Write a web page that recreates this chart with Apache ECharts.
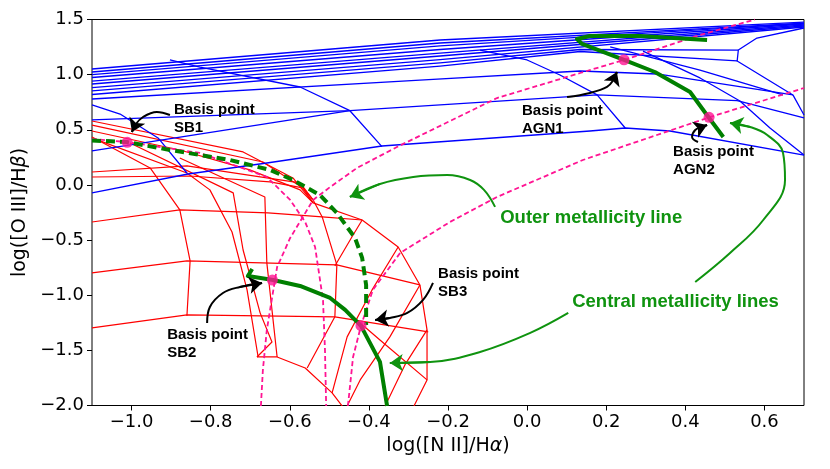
<!DOCTYPE html>
<html><head><meta charset="utf-8">
<script src="https://cdn.jsdelivr.net/npm/echarts@6/dist/echarts.min.js"></script>
<style>html,body{margin:0;padding:0;background:#fff}#c{width:830px;height:469px}</style>
</head><body><div id="c"></div>
<script>
// ---------- axis ticks ----------
const X_TICKS = [-1.0,-0.8,-0.6,-0.4,-0.2,0.0,0.2,0.4,0.6];

// ---------- AGN model grid (blue) ----------
const BLUE_B1 = [[-1.1,1.051],[-0.22,1.314],[0.7,1.477]];
const BLUE_B2 = [[-1.1,1.024],[-0.22,1.287],[0.7,1.468]];
const BLUE_B3 = [[-1.1,1.001],[-0.22,1.260],[0.7,1.464]];
const BLUE_B4 = [[-1.1,0.974],[-0.22,1.228],[0.7,1.459]];
const BLUE_B5 = [[-1.1,0.942],[-0.22,1.196],[0.7,1.450]];
const BLUE_B6 = [[-1.1,0.915],[-0.22,1.169],[0.7,1.441]];
const BLUE_B7 = [[-1.1,0.883],[-0.22,1.137],[0.7,1.432]];
const BLUE_B8 = [[-1.1,0.852],[-0.22,1.106],[0.134,1.228],[0.534,1.223]];
const BLUE_B9 = [[-1.1,0.820],[-0.22,1.078],[0.134,1.210],[0.531,1.124]];
const BLUE_B10 = [[-1.1,0.779],[-0.271,0.951],[0.134,1.033],[0.329,1.006],[0.672,0.816]];
const BLUE_L1 = [[-1.1,0.589],[-0.448,0.673],[0.177,0.816],[0.531,0.764],[0.7,0.607]];
const BLUE_L2 = [[-1.1,0.308],[-0.448,0.673]];
const BLUE_L3 = [[-1.1,-0.072],[-0.857,0.099],[-0.658,0.199],[-0.367,0.353],[0.159,0.489],[0.248,0.516],[0.361,0.489],[0.7,0.271]];
const BLUE_D0 = [[-1.1,0.725],[-1.029,0.643],[-0.933,0.426],[-0.860,0.108]];
const BLUE_D1 = [[-0.903,1.133],[-0.827,1.069],[-0.574,0.888],[-0.448,0.673],[-0.367,0.347]];
const BLUE_D2 = [[-0.119,1.223],[0.0,1.133],[0.083,0.997],[0.177,0.816],[0.248,0.516]];
const BLUE_D3 = [[0.293,1.214],[0.437,0.970],[0.538,0.761],[0.614,0.516],[0.7,0.271]];
const BLUE_FZ = [[0.7,1.423],[0.581,1.332],[0.534,1.223],[0.531,1.124],[0.672,0.816],[0.7,0.634]];
const BLUE_F3 = [[0.210,1.251],[0.437,1.042],[0.647,0.816]];

// ---------- starburst model grid (red) ----------
const RED_P1 = [[-1.1,0.580],[-0.718,0.299],[-0.592,0.063],[-0.541,-0.163],[-0.417,-0.318],[-0.326,-0.563],[-0.271,-0.907],[-0.253,-1.314],[-0.253,-1.768],[-0.286,-2.004]];
const RED_P2 = [[-1.1,0.543],[-0.668,0.208],[-0.567,-0.027],[-0.541,-0.163]];
const RED_P3 = [[-1.1,0.489],[-0.878,0.317],[-0.701,0.136],[-0.574,-0.045],[-0.541,-0.163]];
const RED_C1 = [[-1.1,0.435],[-0.953,0.154],[-0.878,-0.227],[-0.852,-0.689],[-0.860,-1.187]];
const RED_C2 = [[-1.080,0.399],[-0.860,0.108],[-0.802,-0.045],[-0.746,-0.427],[-0.708,-0.952],[-0.680,-1.560]];
const RED_C3 = [[-1.004,0.380],[-0.743,-0.072],[-0.718,-0.590],[-0.675,-1.160],[-0.645,-1.424],[-0.683,-1.560]];
const RED_C4 = [[-0.878,0.244],[-0.663,-0.109],[-0.658,-0.707],[-0.632,-1.560]];
const RED_C5 = [[-0.567,-0.027],[-0.541,-0.136],[-0.518,-0.290],[-0.481,-0.725],[-0.486,-1.196],[-0.556,-1.660]];
const RED_C6 = [[-0.417,-0.318],[-0.443,-0.472],[-0.486,-0.735]];
const RED_C7 = [[-0.326,-0.563],[-0.392,-0.952],[-0.455,-1.378],[-0.493,-1.886]];
const RED_C8 = [[-0.271,-0.907],[-0.347,-1.378],[-0.422,-1.768],[-0.455,-2.004]];
const RED_C9 = [[-0.253,-1.314],[-0.309,-1.632],[-0.359,-2.004]];
const RED_RA = [[-1.1,-0.336],[-0.878,-0.227],[-0.655,-0.254],[-0.518,-0.290],[-0.417,-0.318]];
const RED_RB = [[-1.1,-0.798],[-0.860,-0.689],[-0.481,-0.725],[-0.271,-0.907]];
const RED_RC = [[-1.1,-1.296],[-0.860,-1.178],[-0.486,-1.196],[-0.250,-1.332]];
const RED_RD = [[-0.683,-1.560],[-0.632,-1.560],[-0.561,-1.660],[-0.493,-1.886],[-0.460,-2.040]];
const RED_RE = [[-0.498,-1.016],[-0.372,-1.406],[-0.253,-1.768]];
const RED_RX = [[-1.1,0.117],[-0.860,0.172],[-0.574,0.018],[-0.541,-0.136]];
const RED_RX2 = [[-1.1,0.072],[-0.852,0.081],[-0.650,0.027],[-0.567,-0.027]];

// ---------- demarcation curves (pink dashed) ----------
const PINK_A = [[-1.1,0.417],[-1.012,0.389],[-0.827,0.290],[-0.658,0.072],[-0.599,-0.136],[-0.561,-0.336],[-0.536,-0.563],[-0.516,-1.043],[-0.511,-1.497],[-0.508,-2.004]];
const PINK_B = [[-0.673,-2.004],[-0.668,-1.678],[-0.658,-1.314],[-0.632,-0.744],[-0.599,-0.481],[-0.541,-0.136],[-0.498,-0.019],[-0.430,0.154],[-0.329,0.344],[-0.076,0.788],[0.134,1.015],[0.245,1.133],[0.437,1.359],[0.576,1.5]];
const PINK_C = [[-0.453,-2.004],[-0.440,-1.560],[-0.420,-1.278],[-0.390,-0.952],[-0.321,-0.617],[-0.195,-0.336],[-0.076,-0.109],[0.141,0.226],[0.463,0.616],[0.700,0.879]];

// ---------- metallicity lines (green) ----------
const GREEN_SB = [[-0.695,-0.762],[-0.706,-0.826],[-0.642,-0.862],[-0.574,-0.916],[-0.498,-1.025],[-0.460,-1.133],[-0.420,-1.278],[-0.372,-1.605],[-0.354,-2.004]];
const GREEN_AGN = [[0.455,1.314],[0.286,1.350],[0.159,1.350],[0.126,1.323],[0.139,1.278],[0.245,1.133],[0.323,1.024],[0.412,0.843],[0.460,0.607],[0.496,0.435]];
const GREEN_OUTER = [[-1.1,0.403],[-1.012,0.389],[-0.903,0.317],[-0.751,0.226],[-0.650,0.136],[-0.592,0.045],[-0.524,-0.091],[-0.481,-0.254],[-0.435,-0.481],[-0.417,-0.662],[-0.407,-0.907],[-0.407,-1.269]];

// ---------- basis points ----------
const BASIS_NAMES = ['SB1','SB2','SB3','AGN1','AGN2'];
const BASIS_X = [-1.011,-0.644,-0.420,0.245,0.460];
const BASIS_Y = [0.386,-0.862,-1.276,1.135,0.613];

// ---------- annotations (text anchors and arrow paths, data coords) ----------
const ANN_TEXT = [
  {t:'Basis point\nSB1', p:[-0.893,0.602]},
  {t:'Basis point\nSB2', p:[-0.910,-1.437]},
  {t:'Basis point\nSB3', p:[-0.225,-0.889]},
  {t:'Basis point\nAGN1', p:[-0.013,0.589]},
  {t:'Basis point\nAGN2', p:[0.369,0.217]}
];
const ANN_GREEN_TEXT = [
  {t:'Outer metallicity line', p:[-0.068,-0.300]},
  {t:'Central metallicity lines', p:[0.114,-1.061]}
];
const ARROWS_BLACK = [
  [[-0.903,0.634],[-0.936,0.661],[-0.971,0.616],[-0.991,0.543],[-0.999,0.480]],
  [[-0.809,-1.252],[-0.802,-1.107],[-0.769,-0.980],[-0.726,-0.925],[-0.670,-0.889]],
  [[-0.238,-0.889],[-0.263,-1.043],[-0.303,-1.161],[-0.347,-1.206],[-0.384,-1.224]],
  [[0.101,0.797],[0.159,0.834],[0.202,0.888],[0.218,0.951],[0.227,1.024]],
  [[0.432,0.389],[0.417,0.435],[0.425,0.498],[0.442,0.525],[0.455,0.543]]
];
const ARROWS_GREEN = [
  [[-0.081,-0.199],[-0.109,-0.045],[-0.144,0.045],[-0.202,0.090],[-0.288,0.072],[-0.372,0.009],[-0.448,-0.109]],
  [[0.104,-1.161],[0.008,-1.342],[-0.119,-1.515],[-0.245,-1.605],[-0.347,-1.614]],
  [[0.425,-0.880],[0.513,-0.617],[0.597,-0.318],[0.652,0.045],[0.647,0.290],[0.607,0.453],[0.564,0.525],[0.513,0.562]]
];

const BLUE_LINES = [BLUE_B1,BLUE_B2,BLUE_B3,BLUE_B4,BLUE_B5,BLUE_B6,BLUE_B7,BLUE_B8,BLUE_B9,BLUE_B10,BLUE_L1,BLUE_L2,BLUE_L3,BLUE_D0,BLUE_D1,BLUE_D2,BLUE_D3,BLUE_FZ,BLUE_F3];
const RED_LINES = [RED_P1,RED_P2,RED_P3,RED_C1,RED_C2,RED_C3,RED_C4,RED_C5,RED_C6,RED_C7,RED_C8,RED_C9,RED_RA,RED_RB,RED_RC,RED_RD,RED_RE,RED_RX,RED_RX2];
const PINK_LINES = [PINK_A,PINK_B,PINK_C];

const GREEN = '#008000';
const GREEN_TXT = '#0f930f';
const PINK = '#ff1493';

function ln(data, color, width, type, z){
  return {type:'line', data:data, symbol:'none', showSymbol:false, silent:true, clip:true,
    lineStyle:{color:color, width:width, type:type||'solid', cap:'butt', join:'round'}, z:z||2};
}
const series = [];
RED_LINES.forEach(d=>series.push(ln(d,'#ff0000',1.2,'solid',2)));
BLUE_LINES.forEach(d=>series.push(ln(d,'#0000ff',1.3,'solid',2)));
PINK_LINES.forEach(d=>series.push(ln(d,PINK,1.8,[5,3],3)));
series.push(ln(GREEN_OUTER,GREEN,4,[9,5],4));
series.push(ln(GREEN_SB,GREEN,4,'solid',4));
series.push(ln(GREEN_AGN,GREEN,4,'solid',4));
series.push({type:'scatter', data:BASIS_X.map((x,i)=>[x,BASIS_Y[i]]), symbolSize:11, itemStyle:{color:PINK}, z:5, silent:true});

function arrowSeries(paths, color){
  paths.forEach(p=>{
    const s = ln(p,color,2,'solid',6); s.smooth = 0.4; series.push(s);
  });
  series.push({type:'lines', coordinateSystem:'cartesian2d', z:6, silent:true,
    symbol:['none','arrow'], symbolSize:[10,13],
    lineStyle:{color:color, width:2, opacity:1},
    data: paths.map(p=>({coords:[p[p.length-2], p[p.length-1]]}))});
}
arrowSeries(ARROWS_BLACK,'#000');
arrowSeries(ARROWS_GREEN,GREEN_TXT);

series.push({type:'scatter', z:7, silent:true, symbolSize:0, itemStyle:{color:'#000'},
  data: ANN_TEXT.map(a=>({value:a.p, label:{formatter:a.t}})),
  label:{show:true, position:'right', distance:0, fontFamily:'Liberation Sans', fontWeight:'bold', fontSize:15, lineHeight:18, color:'#000', opacity:1}});
series.push({type:'scatter', z:7, silent:true, symbolSize:0, itemStyle:{color:GREEN_TXT},
  data: ANN_GREEN_TEXT.map(a=>({value:a.p, label:{formatter:a.t}})),
  label:{show:true, position:'right', distance:0, fontFamily:'Liberation Sans', fontWeight:'bold', fontSize:18.5, color:GREEN_TXT, opacity:1}});

const fmt = v => { const r = Math.round(v*10)/10; return (r<0?'\u2212':'') + Math.abs(r).toFixed(1); };

const chart = echarts.init(document.getElementById('c'), null, {renderer:'canvas'});
chart.setOption({
  animation:false,
  grid:{left:92, right:26, top:19.5, bottom:63.5, show:true, borderColor:'#000', borderWidth:1, backgroundColor:'transparent'},
  xAxis:{type:'value', min:-1.1, max:0.7,
    name:'{a|log([N II]/H}{b|α}{a|)}', nameLocation:'middle', nameGap:29,
    nameTextStyle:{rich:{a:{fontFamily:'DejaVu Sans', fontSize:19, color:'#000'}, b:{fontFamily:'DejaVu Sans', fontStyle:'italic', fontSize:19, color:'#000'}}},
    axisLine:{show:false, onZero:false}, splitLine:{show:false},
    axisTick:{show:true, inside:false, length:5, customValues:X_TICKS, lineStyle:{color:'#000', width:1}},
    axisLabel:{customValues:X_TICKS, formatter:fmt, fontFamily:'DejaVu Sans', fontSize:18, color:'#000', margin:8}},
  yAxis:{type:'value', min:-2.0, max:1.5, interval:0.5,
    name:'{a|log([O III]/H}{b|β}{a|)}', nameLocation:'middle', nameGap:55, nameRotate:90,
    nameTextStyle:{rich:{a:{fontFamily:'DejaVu Sans', fontSize:19, color:'#000'}, b:{fontFamily:'DejaVu Sans', fontStyle:'italic', fontSize:19, color:'#000'}}},
    axisLine:{show:false, onZero:false}, splitLine:{show:false},
    axisTick:{show:true, inside:false, length:5, lineStyle:{color:'#000', width:1}},
    axisLabel:{formatter:fmt, fontFamily:'DejaVu Sans', fontSize:18, color:'#000', margin:8}},
  series:series
});
</script></body></html>
